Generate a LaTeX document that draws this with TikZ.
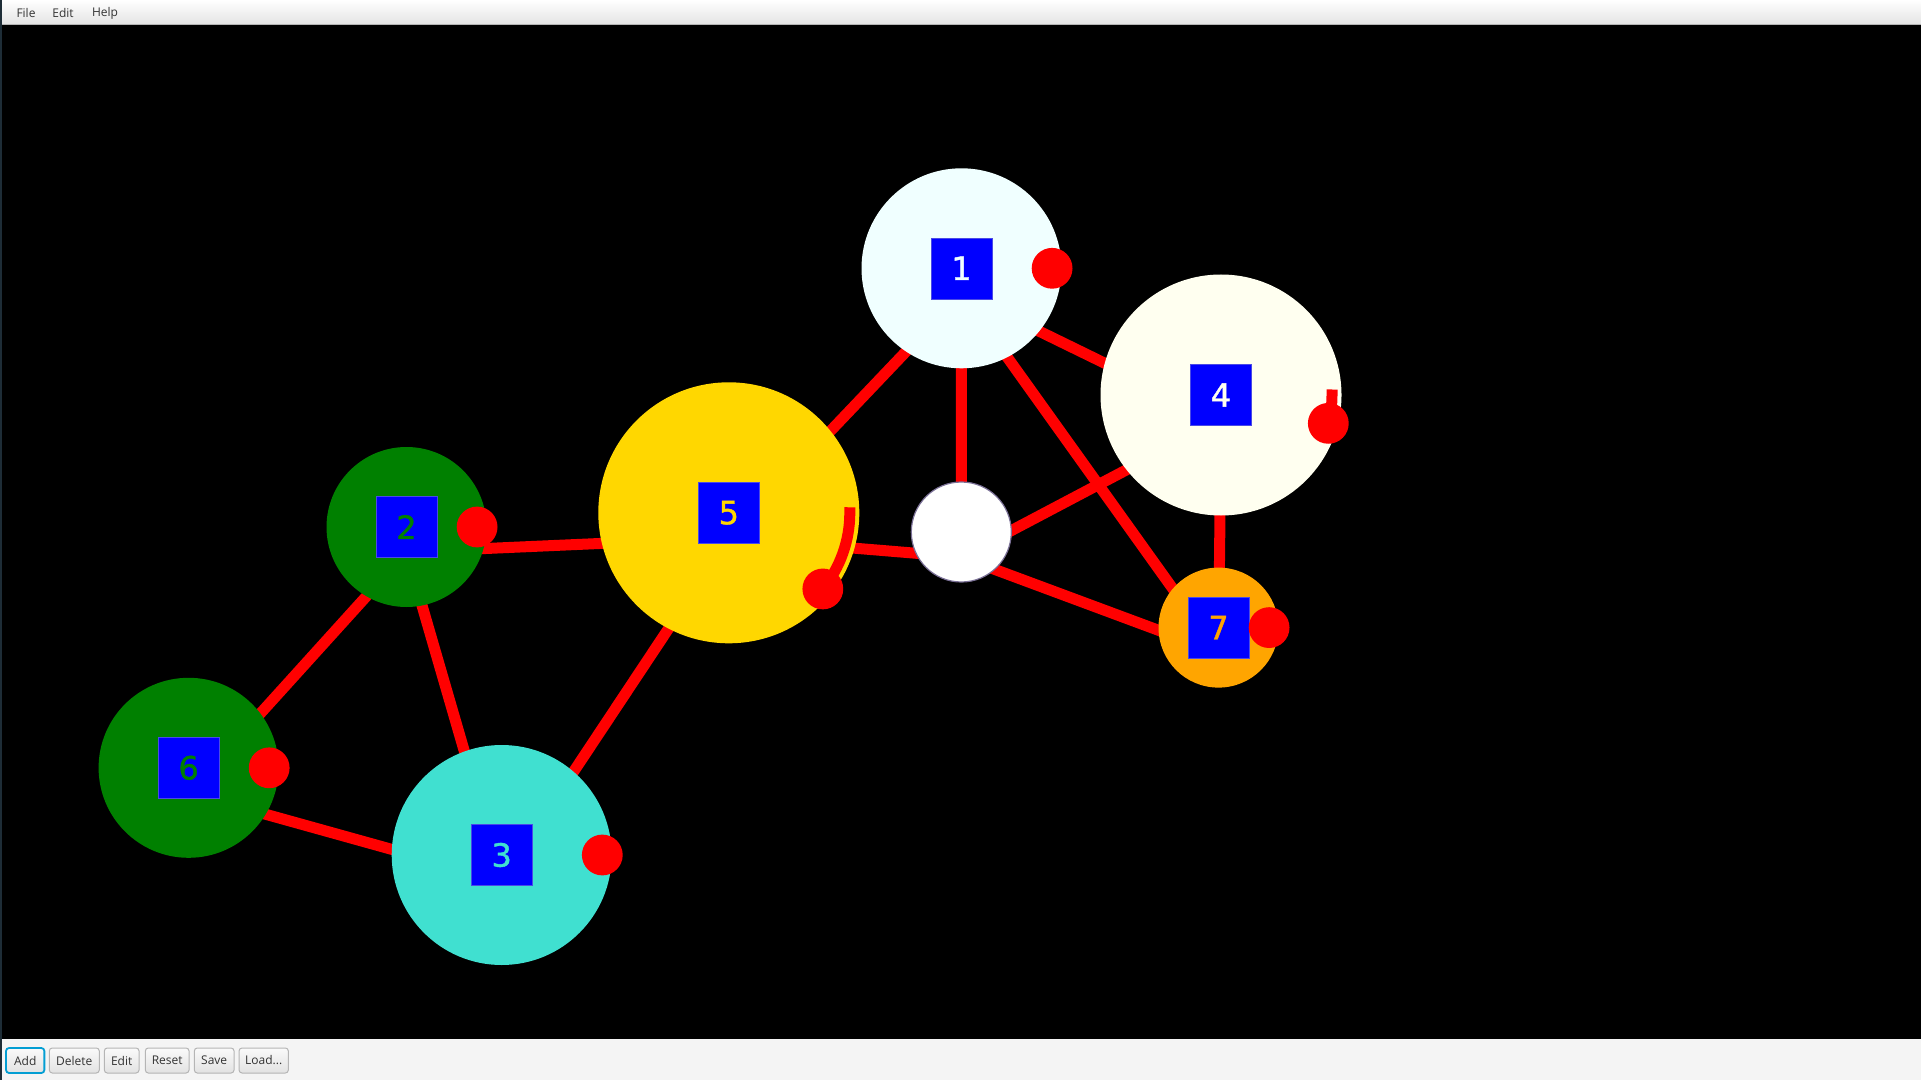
\documentclass[tikz,border=0pt]{standalone}
\usepackage{fontspec}
\setmainfont{DejaVu Sans}
\newfontfamily\uifont{Open Sans}
\newfontfamily\labelfont[FakeBold=1.2]{DejaVu Sans}
\definecolor{azurec}{HTML}{F0FFFF}
\definecolor{ivoryc}{HTML}{FFFFF0}
\definecolor{goldc}{HTML}{FFD700}
\definecolor{greenc}{HTML}{008000}
\definecolor{turqc}{HTML}{40E0D0}
\definecolor{orangec}{HTML}{FFA500}
\definecolor{bluec}{HTML}{0000FF}
\definecolor{boxline}{HTML}{4A4AE6}
\definecolor{redc}{HTML}{FF0000}
\definecolor{uitext}{HTML}{333333}
\definecolor{focusc}{HTML}{039ED3}
\definecolor{barbg}{HTML}{F4F4F4}
\definecolor{barline}{HTML}{B4B4B4}
\definecolor{btnline}{HTML}{B5B5B5}
\definecolor{btntop}{HTML}{FAFAFA}
\definecolor{btnbot}{HTML}{E2E2E2}
\definecolor{menubot}{HTML}{E4E4E4}
\definecolor{winedge}{HTML}{1E2D37}
\definecolor{wnodeline}{HTML}{7A7096}
\pgfdeclarelayer{bg}
\pgfdeclarelayer{edges}
\pgfsetlayers{bg,edges,main}
\begin{document}
\begin{tikzpicture}[x=0.5pt,y=-0.5pt,
  vertex/.style={circle,inner sep=0pt,outer sep=0pt,minimum size=#1pt},
  labelbox/.style={rectangle,fill=bluec,draw=boxline,line width=0.25pt,inner sep=0pt,minimum size=30.5pt,font=\labelfont\fontsize{16}{16}\selectfont},
  dot/.style={circle,fill=redc,inner sep=0pt,minimum size=20.4pt},
  edge/.style={draw=redc,line width=5.5pt},
  progress/.style={draw=redc,line width=5.5pt,line cap=rect},
  uilabel/.style={font=\uifont\fontsize{6}{7}\selectfont,text=uitext,inner sep=0pt},
  btn/.style={rectangle,rounded corners=1.5pt,draw=btnline,line width=0.5pt,top color=btntop,bottom color=btnbot,minimum height=12.5pt,inner sep=0pt,font=\uifont\fontsize{6}{7}\selectfont,text=uitext},
]
\useasboundingbox (0,0) rectangle (1921,1080);
% window chrome
\begin{pgfonlayer}{bg}
\fill[black] (0,0) rectangle (1921,1080);
\shade[top color=white,bottom color=menubot] (0,0) rectangle (1921,24);
\draw[barline,line width=0.6pt] (0,24.5) -- (1921,24.5);
\fill[barbg] (0,1039) rectangle (1921,1080);
\fill[winedge] (0,0) rectangle (2,1080);
\end{pgfonlayer}
\node[uilabel] (mfile) at (26,13) {File};
\node[uilabel] (medit) at (63,13) {Edit};
\node[uilabel] (mhelp) at (105,13) {Help};
\node[btn,minimum width=19.15pt,draw=focusc,line width=0.9pt] (badd) at (25.2,1060.5) {Add};
\node[btn,minimum width=25pt] (bdel) at (74.3,1060.5) {Delete};
\node[btn,minimum width=17.35pt] (bedit) at (121.7,1060.5) {Edit};
\node[btn,minimum width=21.85pt] (breset) at (167.2,1060.5) {Reset};
\node[btn,minimum width=19.85pt] (bsave) at (214.2,1060.5) {Save};
\node[btn,minimum width=24.65pt] (bload) at (263.7,1060.5) {Load...};
% vertices
\node[vertex=100,fill=azurec] (n1) at (961.5,268.3) {};
\node[vertex=120.5,fill=ivoryc] (n4) at (1221,395) {};
\node[vertex=130.5,fill=goldc] (n5) at (728.8,512.8) {};
\node[vertex=50,fill=white,draw=wnodeline,line width=0.6pt] (nw) at (961.3,532) {};
\node[vertex=60,fill=orangec] (n7) at (1218.5,627.6) {};
\node[vertex=80,fill=greenc] (n2) at (406.5,527) {};
\node[vertex=90,fill=greenc] (n6) at (188.6,767.8) {};
\node[vertex=110,fill=turqc] (n3) at (501.7,855) {};
% labels
\node[labelbox,text=azurec] (s1) at (n1) {1};
\node[labelbox,text=ivoryc] (s4) at (n4) {4};
\node[labelbox,text=goldc] (s5) at (n5) {5};
\node[labelbox,text=orangec] (s7) at (n7) {7};
\node[labelbox,text=greenc] (s2) at (n2) {2};
\node[labelbox,text=greenc] (s6) at (n6) {6};
\node[labelbox,text=turqc] (s3) at (n3) {3};
% progress arcs and handles
\draw[progress] (n5.center) ++(121,0) arc[start angle=0,end angle=39,radius=121];
\draw[progress] (n4.center) ++(111,0) arc[start angle=0,end angle=14.8,radius=111];
\path (n1.center) ++(90.6,0) node[dot] (d1) {};
\path (n4.center) ++(14.8:111) node[dot] (d4) {};
\path (n5.center) ++(39:121) node[dot] (d5) {};
\path (n7.center) ++(50.6,0) node[dot] (d7) {};
\path (n2.center) ++(70.6,0) node[dot] (d2) {};
\path (n6.center) ++(80.6,0) node[dot] (d6) {};
\path (n3.center) ++(100.6,0) node[dot] (d3) {};
% edge anchor points (offset below the centres)
\path (n1.center) ++(0,25) coordinate (e1);
\path (n2.center) ++(0,25) coordinate (e2);
\path (n3.center) ++(0,25) coordinate (e3);
\path (n4.center) ++(0,25) coordinate (e4);
\path (n5.center) ++(0,25) coordinate (e5);
\path (n6.center) ++(0,25) coordinate (e6);
\path (n7.center) ++(0,25) coordinate (e7);
\path (nw.center) ++(0,25) coordinate (ew);
\begin{pgfonlayer}{edges}
\draw[edge] (e2) -- (e6);
\draw[edge] (e2) -- (e3);
\draw[edge] (e6) -- (e3);
\draw[edge] (e2) -- (e5);
\draw[edge] (e3) -- (e5);
\draw[edge] (e5) -- (e1);
\draw[edge] (e5) -- (ew);
\draw[edge] (e1) -- (ew);
\draw[edge] (e1) -- (e4);
\draw[edge] (e1) -- (e7);
\draw[edge] (ew) -- (e4);
\draw[edge] (ew) -- (e7);
\draw[edge] (e4) -- (e7);
\end{pgfonlayer}
\end{tikzpicture}
\end{document}
